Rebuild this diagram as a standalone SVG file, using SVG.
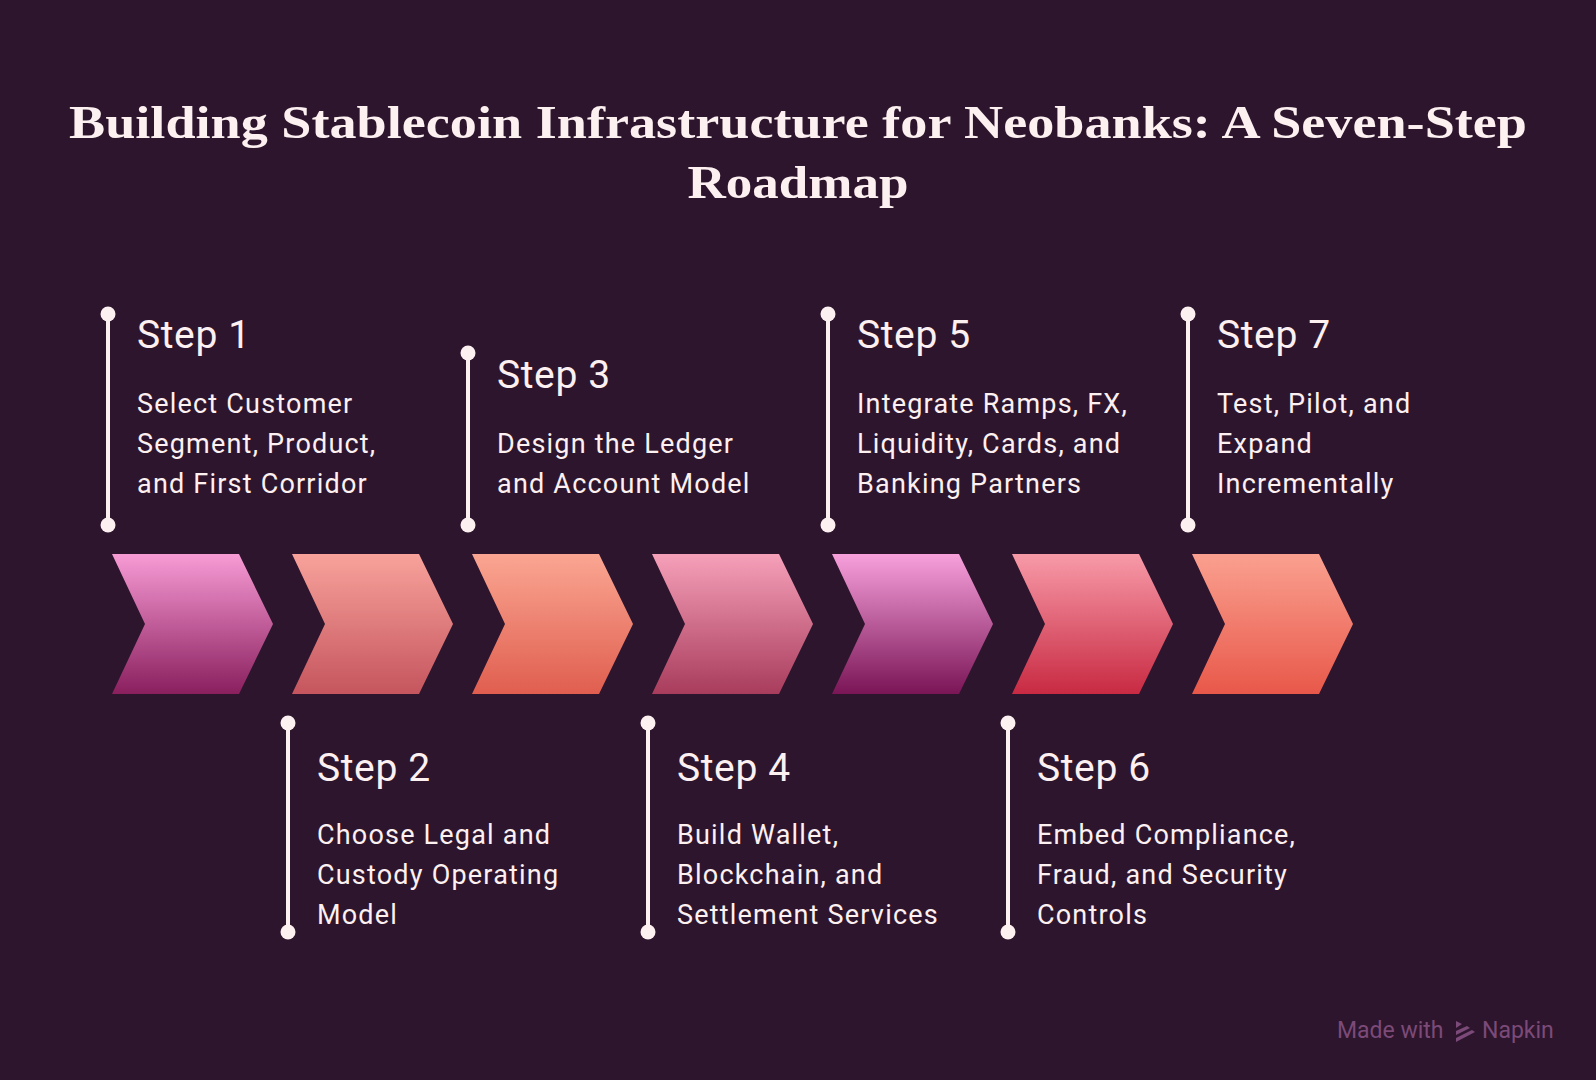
<svg xmlns="http://www.w3.org/2000/svg" width="1596" height="1080" viewBox="0 0 1596 1080">
<defs>
<style>
.title{font-family:"Liberation Serif","DejaVu Serif",serif;font-weight:bold;font-size:47px;fill:#fdf0f1;text-anchor:middle}
.st{font-family:Roboto,"Liberation Sans",sans-serif;font-size:39px;letter-spacing:0.6px;fill:#fdf0f1}
.ds{font-family:Roboto,"Liberation Sans",sans-serif;font-size:27px;letter-spacing:1.2px;fill:#fdf0f1}
.ln{stroke:#fdf0f1;stroke-width:4;fill:none}
.dot{fill:#fdf0f1}
.wm{font-family:Roboto,"Liberation Sans",sans-serif;font-size:23px;fill:#7b4a78}
</style>
<linearGradient id="g1" x1="0" y1="0" x2="0" y2="1"><stop offset="0" stop-color="#f79bd5"/><stop offset="1" stop-color="#8a1f5e"/></linearGradient>
<linearGradient id="g2" x1="0" y1="0" x2="0" y2="1"><stop offset="0" stop-color="#f8a29b"/><stop offset="1" stop-color="#c5555e"/></linearGradient>
<linearGradient id="g3" x1="0" y1="0" x2="0" y2="1"><stop offset="0" stop-color="#faa692"/><stop offset="1" stop-color="#e05e4f"/></linearGradient>
<linearGradient id="g4" x1="0" y1="0" x2="0" y2="1"><stop offset="0" stop-color="#f6a0ba"/><stop offset="1" stop-color="#a83c5c"/></linearGradient>
<linearGradient id="g5" x1="0" y1="0" x2="0" y2="1"><stop offset="0" stop-color="#f7a0dc"/><stop offset="1" stop-color="#7a1556"/></linearGradient>
<linearGradient id="g6" x1="0" y1="0" x2="0" y2="1"><stop offset="0" stop-color="#f79aa8"/><stop offset="1" stop-color="#c82a42"/></linearGradient>
<linearGradient id="g7" x1="0" y1="0" x2="0" y2="1"><stop offset="0" stop-color="#faa090"/><stop offset="1" stop-color="#e8584a"/></linearGradient>
<polygon id="chev" points="0,0 127,0 161,70 127,140 0,140 33,70"/>
</defs>
<rect width="1596" height="1080" fill="#2d152d"/>
<g id="title">
<text class="title" x="798" y="138" textLength="1458" lengthAdjust="spacingAndGlyphs">Building Stablecoin Infrastructure for Neobanks: A Seven-Step</text>
<text class="title" x="798" y="198" textLength="221" lengthAdjust="spacingAndGlyphs">Roadmap</text>
</g>
<g id="connectors">
<line class="ln" x1="108" y1="314" x2="108" y2="525"/>
<line class="ln" x1="288" y1="723" x2="288" y2="932"/>
<line class="ln" x1="468" y1="353" x2="468" y2="525"/>
<line class="ln" x1="648" y1="723" x2="648" y2="932"/>
<line class="ln" x1="828" y1="314" x2="828" y2="525"/>
<line class="ln" x1="1008" y1="723" x2="1008" y2="932"/>
<line class="ln" x1="1188" y1="314" x2="1188" y2="525"/>
<g class="dot">
<circle cx="108" cy="314" r="7.5"/><circle cx="108" cy="525" r="7.5"/>
<circle cx="288" cy="723" r="7.5"/><circle cx="288" cy="932" r="7.5"/>
<circle cx="468" cy="353" r="7.5"/><circle cx="468" cy="525" r="7.5"/>
<circle cx="648" cy="723" r="7.5"/><circle cx="648" cy="932" r="7.5"/>
<circle cx="828" cy="314" r="7.5"/><circle cx="828" cy="525" r="7.5"/>
<circle cx="1008" cy="723" r="7.5"/><circle cx="1008" cy="932" r="7.5"/>
<circle cx="1188" cy="314" r="7.5"/><circle cx="1188" cy="525" r="7.5"/>
</g>
</g>
<g id="step1">
<use href="#chev" x="112" y="554" fill="url(#g1)"/>
<text class="st" x="137" y="348">Step 1</text>
<text class="ds" x="137" y="413">Select Customer</text>
<text class="ds" x="137" y="453">Segment, Product,</text>
<text class="ds" x="137" y="493">and First Corridor</text>
</g>
<g id="step2">
<use href="#chev" x="292" y="554" fill="url(#g2)"/>
<text class="st" x="317" y="781">Step 2</text>
<text class="ds" x="317" y="844">Choose Legal and</text>
<text class="ds" x="317" y="884">Custody Operating</text>
<text class="ds" x="317" y="924">Model</text>
</g>
<g id="step3">
<use href="#chev" x="472" y="554" fill="url(#g3)"/>
<text class="st" x="497" y="388">Step 3</text>
<text class="ds" x="497" y="453">Design the Ledger</text>
<text class="ds" x="497" y="493">and Account Model</text>
</g>
<g id="step4">
<use href="#chev" x="652" y="554" fill="url(#g4)"/>
<text class="st" x="677" y="781">Step 4</text>
<text class="ds" x="677" y="844">Build Wallet,</text>
<text class="ds" x="677" y="884">Blockchain, and</text>
<text class="ds" x="677" y="924">Settlement Services</text>
</g>
<g id="step5">
<use href="#chev" x="832" y="554" fill="url(#g5)"/>
<text class="st" x="857" y="348">Step 5</text>
<text class="ds" x="857" y="413">Integrate Ramps, FX,</text>
<text class="ds" x="857" y="453">Liquidity, Cards, and</text>
<text class="ds" x="857" y="493">Banking Partners</text>
</g>
<g id="step6">
<use href="#chev" x="1012" y="554" fill="url(#g6)"/>
<text class="st" x="1037" y="781">Step 6</text>
<text class="ds" x="1037" y="844">Embed Compliance,</text>
<text class="ds" x="1037" y="884">Fraud, and Security</text>
<text class="ds" x="1037" y="924">Controls</text>
</g>
<g id="step7">
<use href="#chev" x="1192" y="554" fill="url(#g7)"/>
<text class="st" x="1217" y="348">Step 7</text>
<text class="ds" x="1217" y="413">Test, Pilot, and</text>
<text class="ds" x="1217" y="453">Expand</text>
<text class="ds" x="1217" y="493">Incrementally</text>
</g>
<g id="watermark">
<text class="wm" x="1337" y="1038">Made with</text>
<g fill="#7b4a78">
<polygon points="1456,1021 1462,1024 1456,1028"/>
<polygon points="1456,1031 1467,1026 1470,1028 1456,1035"/>
<polygon points="1456,1038 1472,1030 1475,1032 1456,1042"/>
</g>
<text class="wm" x="1482" y="1038">Napkin</text>
</g>
</svg>
